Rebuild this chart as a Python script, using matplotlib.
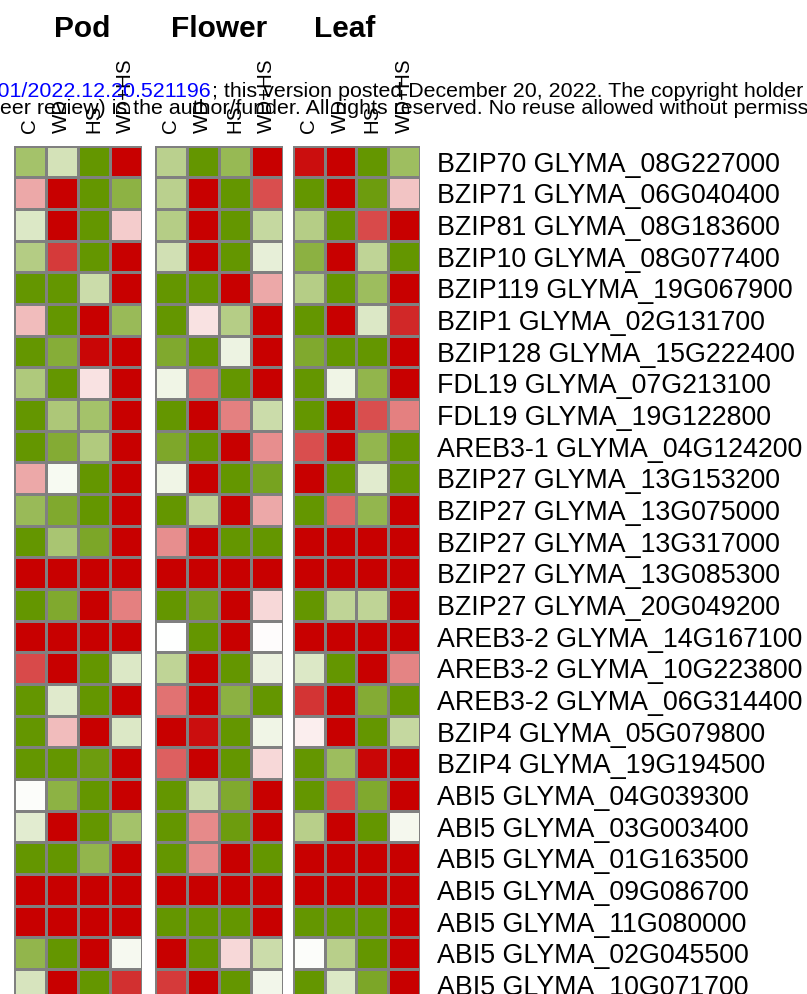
import numpy as np
import matplotlib
matplotlib.use("Agg")
import matplotlib.pyplot as plt
from matplotlib.colors import LinearSegmentedColormap

plt.rcParams['font.family'] = ['Liberation Sans', 'DejaVu Sans']

# Datos
tissues = ['Pod', 'Flower', 'Leaf']
conditions = ['C', 'WD', 'HS', 'WD+HS']
genes = [
    "BZIP70 GLYMA_08G227000", "BZIP71 GLYMA_06G040400", "BZIP81 GLYMA_08G183600",
    "BZIP10 GLYMA_08G077400", "BZIP119 GLYMA_19G067900", "BZIP1 GLYMA_02G131700",
    "BZIP128 GLYMA_15G222400", "FDL19 GLYMA_07G213100", "FDL19 GLYMA_19G122800",
    "AREB3-1 GLYMA_04G124200", "BZIP27 GLYMA_13G153200", "BZIP27 GLYMA_13G075000",
    "BZIP27 GLYMA_13G317000", "BZIP27 GLYMA_13G085300", "BZIP27 GLYMA_20G049200",
    "AREB3-2 GLYMA_14G167100", "AREB3-2 GLYMA_10G223800", "AREB3-2 GLYMA_06G314400",
    "BZIP4 GLYMA_05G079800", "BZIP4 GLYMA_19G194500", "ABI5 GLYMA_04G039300",
    "ABI5 GLYMA_03G003400", "ABI5 GLYMA_01G163500", "ABI5 GLYMA_09G086700",
    "ABI5 GLYMA_11G080000", "ABI5 GLYMA_02G045500", "ABI5 GLYMA_10G071700",
]

pod = [
    [0.58, 0.28, 1, -1], [-0.34, -1, 1, 0.73], [0.22, -1, 1, -0.2],
    [0.48, -0.77, 1, -1], [1, 1, 0.33, -1], [-0.26, 1, -1, 0.65],
    [1, 0.78, -0.97, -1], [0.51, 1, -0.11, -1], [1, 0.53, 0.58, -1],
    [1, 0.79, 0.5, -1], [-0.34, 0.05, 1, -1], [0.65, 0.82, 1, -1],
    [1, 0.55, 0.84, -1], [-1, -1, -1, -1], [1, 0.82, -1, -0.5],
    [-1, -1, -1, -1], [-0.71, -1, 1, 0.22], [1, 0.2, 1, -1],
    [1, -0.26, -1, 0.22], [1, 1, 0.94, -1], [0.02, 0.73, 1, -1],
    [0.18, -1, 1, 0.58], [1, 1, 0.7, -1], [-1, -1, -1, -1],
    [-1, -1, -1, -1], [0.7, 1, -1, 0.06], [0.25, -1, 1, -0.81],
]
flower = [
    [0.44, 1, 0.67, -1], [0.44, -1, 1, -0.69], [0.47, -1, 1, 0.37],
    [0.29, -1, 1, 0.15], [1, 1, -1, -0.34], [1, -0.11, 0.47, -1],
    [0.82, 1, 0.11, -1], [0.1, -0.57, 1, -1], [1, -1, -0.5, 0.33],
    [0.83, 1, -1, -0.44], [0.1, -1, 1, 0.87], [1, 0.41, -1, -0.34],
    [-0.44, -1, 1, 1], [-1, -1, -1, -1], [1, 0.9, -1, -0.15],
    [0, 1, -1, -0.01], [0.41, -1, 1, 0.13], [-0.55, -1, 0.74, 1],
    [-1, -0.94, 1, 0.1], [-0.62, -1, 1, -0.15], [1, 0.33, 0.82, -1],
    [1, -0.46, 0.94, -1], [1, -0.46, -1, 1], [-1, -1, -1, -1],
    [1, 1, 1, -1], [-1, 1, -0.15, 0.33], [-0.77, -1, 1, 0.08],
]
leaf = [
    [-0.94, -1, 1, 0.62], [1, -1, 0.94, -0.23], [0.47, 1, -0.71, -1],
    [0.74, -1, 0.41, 1], [0.47, 1, 0.63, -1], [1, -1, 0.22, -0.84],
    [0.82, 1, 1, -1], [1, 0.1, 0.7, -1], [1, -1, -0.69, -0.5],
    [-0.69, -1, 0.69, 1], [-1, 1, 0.19, 1], [1, -0.6, 0.69, -1],
    [-1, -1, -1, -1], [-1, -1, -1, -1], [1, 0.41, 0.41, -1],
    [-1, -1, -1, -1], [0.22, 1, -1, -0.48], [-0.79, -1, 0.79, 1],
    [-0.07, -1, 1, 0.37], [1, 0.63, -0.97, -1], [1, -0.71, 0.82, -1],
    [0.46, -1, 1, 0.07], [-1, -1, -1, -1], [-1, -1, -1, -1],
    [1, 1, 1, -1], [0.02, 0.46, 1, -1], [1, 0.22, 0.84, -1],
]

W, H = 807, 994
fig = plt.figure(figsize=(W / 100, H / 100), dpi=100)
cmap = LinearSegmentedColormap.from_list('rwg', ['#C80000', '#FFFFFF', '#649600'])

# posiciones de los paneles en pixeles (izquierda, derecha)
panel_x = [(14, 141.7), (155, 282.7), (292.7, 420)]
top, cell = 145.7, 31.67
bottom = top + cell * len(genes)

for k, (name, data) in enumerate(zip(tissues, [pod, flower, leaf])):
    x0, x1 = panel_x[k]
    ax = fig.add_axes([x0 / W, 1 - bottom / H, (x1 - x0) / W, (bottom - top) / H])
    arr = np.array(data)
    ax.pcolormesh(arr, cmap=cmap, vmin=-1, vmax=1, edgecolors='#808080', linewidth=0.9)
    ax.set_xlim(0, 4)
    ax.set_ylim(len(genes), 0)
    for s in ax.spines.values():
        s.set_visible(False)
    ax.xaxis.tick_top()
    ax.set_xticks(np.arange(4) + 0.5)
    ax.set_xticklabels(conditions, rotation=90, fontsize=14.8, ha='center', va='bottom')
    ax.tick_params(axis='x', length=0, pad=9)
    if k == 2:
        ax.yaxis.tick_right()
        ax.set_yticks(np.arange(len(genes)) + 0.5)
        ax.set_yticklabels(genes, fontsize=19.3)
        ax.tick_params(axis='y', length=0, pad=12)
    else:
        ax.set_yticks([])

# titulos de los paneles
for name, xc in zip(tissues, [81.7, 219, 345]):
    fig.text(xc / W, 1 - 37.3 / H, name, ha='center', va='baseline',
             fontsize=21.5, fontweight='bold')

# marca de agua de bioRxiv
fig.text(211.7 / W, 1 - 97 / H, "https://doi.org/10.1101/2022.12.20.521196",
         ha='right', va='baseline', fontsize=15.4, color='#0000FF')
fig.text(211.7 / W, 1 - 97 / H,
         "; this version posted December 20, 2022. The copyright holder for this preprint",
         ha='left', va='baseline', fontsize=15.4, color='black')
fig.text(-12 / W, 1 - 113.5 / H,
         "peer review) is the author/funder. All rights reserved. No reuse allowed without permission.",
         ha='left', va='baseline', fontsize=15.4, color='black')

fig.savefig('out.png', dpi=100)
